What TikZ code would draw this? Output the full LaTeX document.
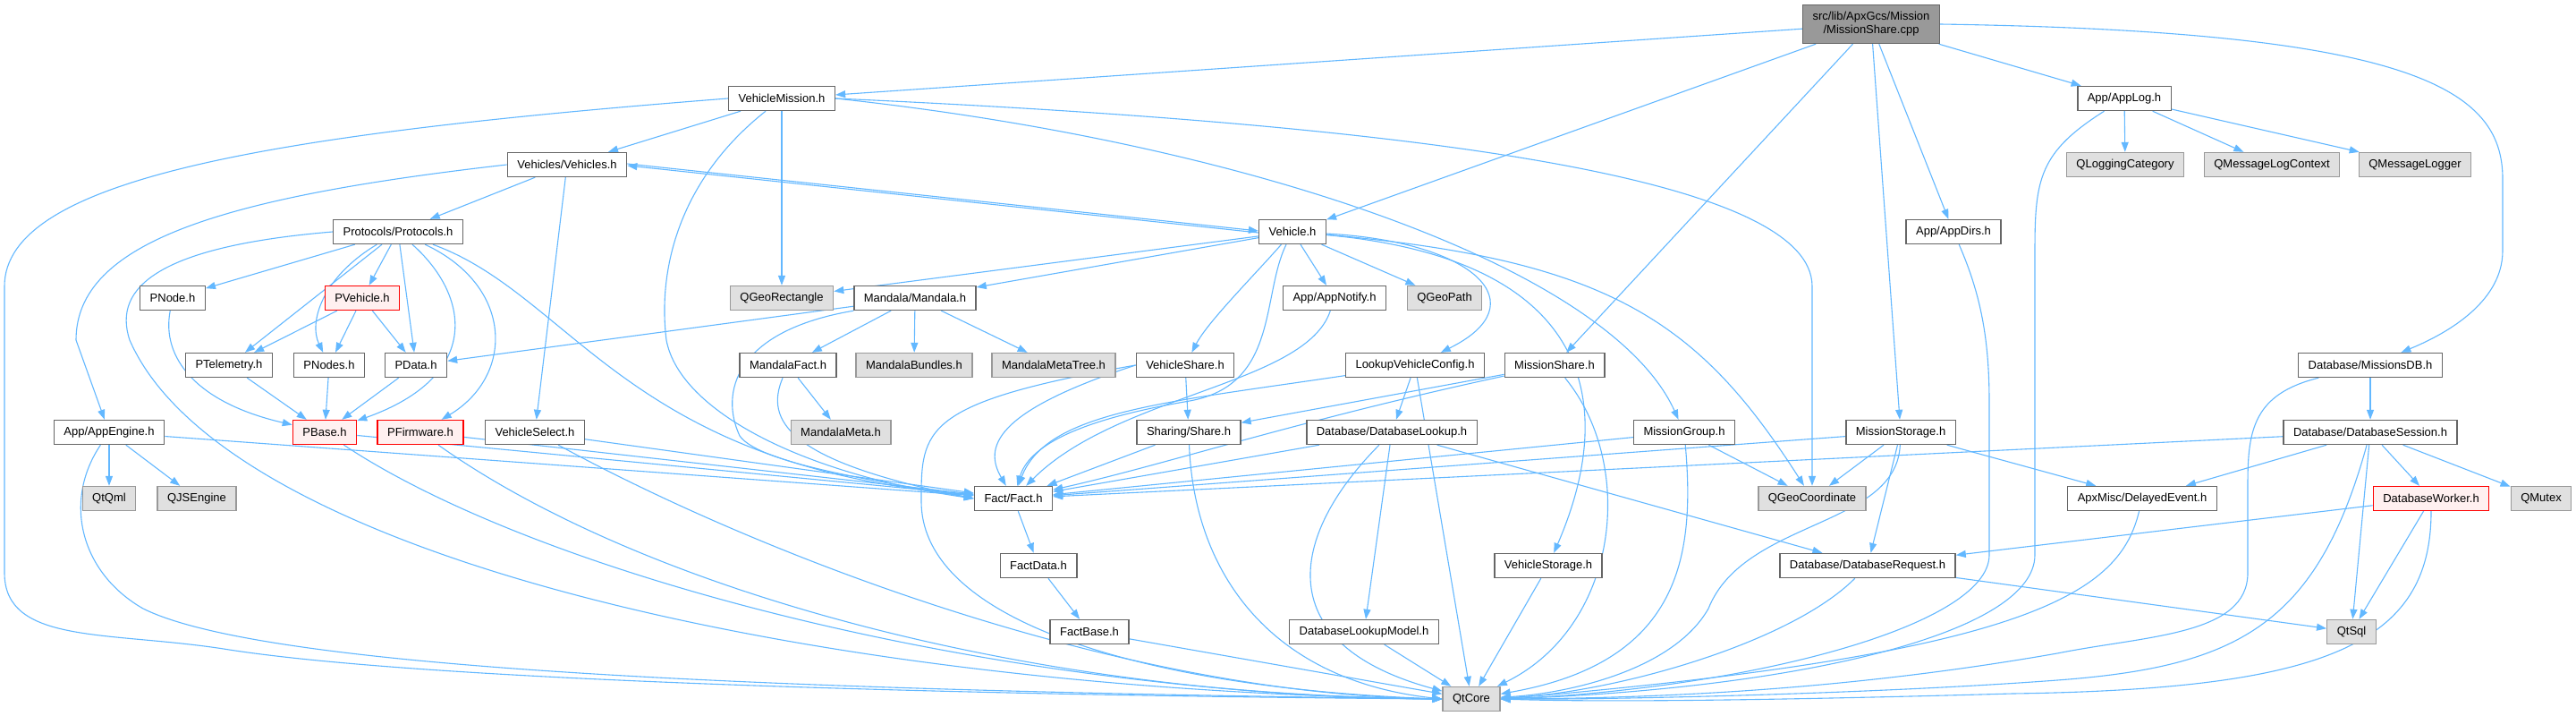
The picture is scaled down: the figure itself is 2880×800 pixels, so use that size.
\documentclass[tikz,border=0pt]{standalone}
\usepackage{fontspec}
\setmainfont{Liberation Sans}
\usetikzlibrary{arrows.meta}

\definecolor{edgeblue}{HTML}{63B8FF}
\definecolor{boxgray}{HTML}{666666}
\definecolor{extfill}{HTML}{E0E0E0}
\definecolor{extline}{HTML}{999999}
\definecolor{truncfill}{HTML}{FFF0F0}

\pgfdeclarelayer{background}
\pgfsetlayers{background,main}

\begin{document}
\begin{tikzpicture}[x=1pt, y=-1pt,
  file/.style={draw=boxgray, fill=white, line width=1.4pt, inner xsep=11pt, inner ysep=0pt,
    minimum height=27pt, font=\fontsize{13}{15}\selectfont},
  ext/.style={file, draw=extline, fill=extfill},
  trunc/.style={file, draw=red, fill=truncfill},
  rootfile/.style={file, draw=boxgray, fill=extline, align=center, minimum height=43pt},
  edge/.style={draw=edgeblue, line width=1.1pt, -{Triangle[length=11pt,width=8pt]}}]

\useasboundingbox (0,0) rectangle (2880,800);

% nodes
\node [rootfile] (root) at (2092,27) {src/lib/ApxGcs/Mission\\/MissionShare.cpp};
\node [file] (vmission) at (874,110) {VehicleMission.h};
\node [file] (applog) at (2375,110) {App/AppLog.h};
\node [file] (vehicles) at (634,184) {Vehicles/Vehicles.h};
\node [ext] (qlogcat) at (2376,184) {QLoggingCategory};
\node [ext] (qmsgctx) at (2540,184) {QMessageLogContext};
\node [ext] (qmsglogger) at (2700,184) {QMessageLogger};
\node [file] (protocols) at (445,259) {Protocols/Protocols.h};
\node [file] (vehicle) at (1445,259) {Vehicle.h};
\node [file] (appdirs) at (2184,259) {App/AppDirs.h};
\node [file] (pnode) at (193,333) {PNode.h};
\node [trunc] (pvehicle) at (405,333) {PVehicle.h};
\node [ext] (qgeorect) at (874,333) {QGeoRectangle};
\node [file] (mandala) at (1023,333) {Mandala/Mandala.h};
\node [file] (appnotify) at (1492,333) {App/AppNotify.h};
\node [ext] (qgeopath) at (1615,333) {QGeoPath};
\node [file] (ptelemetry) at (256,408) {PTelemetry.h};
\node [file] (pnodes) at (368,408) {PNodes.h};
\node [file] (pdata) at (465,408) {PData.h};
\node [file] (mandalafact) at (881,408) {MandalaFact.h};
\node [ext] (mbundles) at (1022,408) {MandalaBundles.h};
\node [ext] (mmetatree) at (1178,408) {MandalaMetaTree.h};
\node [file] (vshare) at (1325,408) {VehicleShare.h};
\node [file] (lookupcfg) at (1582,408) {LookupVehicleConfig.h};
\node [file] (missionshare) at (1738,408) {MissionShare.h};
\node [file] (missionsdb) at (2650,408) {Database/MissionsDB.h};
\node [file] (appengine) at (122,483) {App/AppEngine.h};
\node [trunc] (pbase) at (363,483) {PBase.h};
\node [trunc] (pfirmware) at (470,483) {PFirmware.h};
\node [file] (vselect) at (598,483) {VehicleSelect.h};
\node [ext] (mmeta) at (940,483) {MandalaMeta.h};
\node [file] (share) at (1329,483) {Sharing/Share.h};
\node [file] (dblookup) at (1556,483) {Database/DatabaseLookup.h};
\node [file] (missiongroup) at (1883,483) {MissionGroup.h};
\node [file] (missionstorage) at (2125,483) {MissionStorage.h};
\node [file] (dbsession) at (2650,483) {Database/DatabaseSession.h};
\node [ext] (qtqml) at (122,557) {QtQml};
\node [ext] (qjsengine) at (220,557) {QJSEngine};
\node [file] (fact) at (1133,557) {Fact/Fact.h};
\node [ext] (qgeocoord) at (2026,557) {QGeoCoordinate};
\node [file] (delayedevent) at (2395,557) {ApxMisc/DelayedEvent.h};
\node [trunc] (dbworker) at (2718,557) {DatabaseWorker.h};
\node [ext] (qmutex) at (2841,557) {QMutex};
\node [file] (factdata) at (1161,632) {FactData.h};
\node [file] (vstorage) at (1731,632) {VehicleStorage.h};
\node [file] (dbrequest) at (2088,632) {Database/DatabaseRequest.h};
\node [file] (factbase) at (1218,706) {FactBase.h};
\node [file] (dblookupmodel) at (1525,706) {DatabaseLookupModel.h};
\node [ext] (qtsql) at (2629,706) {QtSql};
\node [ext] (qtcore) at (1645,781) {QtCore};

\begin{pgfonlayer}{background}
\fill[white] (0,0) rectangle (2880,800);

% root
\draw [edge] (root) -- (vmission);
\draw [edge] (root) -- (vehicle);
\draw [edge] (root) -- (missionshare);
\draw [edge] (root) -- (missionstorage);
\draw [edge] (root) -- (appdirs);
\draw [edge] (root) -- (applog);
\draw [edge] (root.east) .. controls (2700,35) and (2798,100) .. (2798,200) -- (2798,280) .. controls (2798,340) and (2730,375) .. (missionsdb);

% VehicleMission.h
\draw [edge] (vmission.west) .. controls (300,150) and (5,200) .. (5,320) -- (5,640) .. controls (5,720) and (120,705) .. (250,725) .. controls (500,765) and (1200,778) .. (qtcore.west);
\draw [edge] (vmission) -- (vehicles);
\draw [edge] (vmission) .. controls (760,200) and (735,300) .. (745,380) .. controls (760,460) and (900,530) .. (fact.west);
\draw [edge] (vmission) -- (qgeorect);
\draw [edge] (vmission.east) .. controls (1600,140) and (2026,200) .. (2026,320) -- (qgeocoord);
\draw [edge] (vmission.east) .. controls (1400,160) and (1800,300) .. (missiongroup);

% Vehicles.h / Vehicle.h
\draw [edge] ([yshift=1pt]vehicles.east) -- ([yshift=1pt]vehicle.west);
\draw [edge] ([yshift=-1pt]vehicle.west) -- ([yshift=-1pt]vehicles.east);
\draw [edge] (vehicles) -- (protocols);
\draw [edge] (vehicles.west) .. controls (250,220) and (85,270) .. (85,380) -- (appengine);
\draw [edge] (vehicles) -- (vselect);
\draw [edge] (vehicle) -- (qgeorect);
\draw [edge] (vehicle) -- (mandala);
\draw [edge] (vehicle) .. controls (1400,310) and (1350,360) .. (vshare);
\draw [edge] (vehicle) .. controls (1410,330) and (1430,430) .. (1330,448) .. controls (1200,470) and (1150,500) .. (fact);
\draw [edge] (vehicle) -- (appnotify);
\draw [edge] (vehicle) -- (qgeopath);
\draw [edge] (vehicle) .. controls (1650,270) and (1720,340) .. (lookupcfg);
\draw [edge] (vehicle) .. controls (1780,290) and (1810,450) .. (vstorage);
\draw [edge] (vehicle) .. controls (1800,290) and (1900,360) .. (qgeocoord);

% Protocols
\draw [edge] (protocols) -- (pnode);
\draw [edge] (protocols) -- (pvehicle);
\draw [edge] (protocols) -- (ptelemetry);
\draw [edge] (protocols) .. controls (360,310) and (345,360) .. (pnodes);
\draw [edge] (protocols) -- (pdata);
\draw [edge] (protocols) .. controls (525,330) and (540,420) .. (pbase);
\draw [edge] (protocols) .. controls (575,320) and (575,420) .. (pfirmware);
\draw [edge] (protocols) .. controls (640,330) and (700,520) .. (fact);
\draw [edge] (protocols.west) .. controls (180,275) and (125,320) .. (145,380) .. controls (250,620) and (900,770) .. (qtcore.west);
\draw [edge] (pvehicle) -- (ptelemetry);
\draw [edge] (pvehicle) -- (pnodes);
\draw [edge] (pvehicle) -- (pdata);
\draw [edge] (pnode) .. controls (180,400) and (220,450) .. (pbase);
\draw [edge] (ptelemetry) -- (pbase);
\draw [edge] (pnodes) -- (pbase);
\draw [edge] (pdata) -- (pbase);
\draw [edge] (pbase) -- (fact);
\draw [edge] (pbase) .. controls (600,640) and (1100,775) .. (qtcore.west);
\draw [edge] (pfirmware) -- (fact);
\draw [edge] (pfirmware) .. controls (720,660) and (1150,778) .. (qtcore.west);
\draw [edge] (vselect) -- (fact);
\draw [edge] (vselect) .. controls (850,620) and (1250,775) .. (qtcore.west);

% App/AppEngine.h
\draw [edge] (appengine) -- (qtqml);
\draw [edge] (appengine) -- (qjsengine);
\draw [edge] (appengine) -- (fact);
\draw [edge] (appengine) .. controls (70,560) and (90,640) .. (160,680) .. controls (300,750) and (900,772) .. (qtcore.west);

% Mandala
\draw [edge] (mandala) -- (pdata);
\draw [edge] (mandala.south west) .. controls (820,370) and (805,440) .. (827,487) .. controls (850,520) and (1000,540) .. (fact.west);
\draw [edge] (mandala) -- (mandalafact);
\draw [edge] (mandala) -- (mbundles);
\draw [edge] (mandala) -- (mmetatree);
\draw [edge] (mandalafact) -- (mmeta);
\draw [edge] (mandalafact) .. controls (855,470) and (880,515) .. (fact.west);

% sharing
\draw [edge] (vshare) -- (share);
\draw [edge] (vshare.west) .. controls (1110,460) and (1100,500) .. (fact);
\draw [edge] (vshare.west) .. controls (1030,450) and (1030,480) .. (1030,560) .. controls (1030,700) and (1300,770) .. (qtcore.west);
\draw [edge] (share) -- (fact);
\draw [edge] (share) .. controls (1335,640) and (1420,760) .. (qtcore.west);
\draw [edge] (appnotify) .. controls (1460,430) and (1250,440) .. (fact);
\draw [edge] (missionshare) -- (share);
\draw [edge] (missionshare) .. controls (1450,470) and (1300,520) .. (fact);
\draw [edge] (missionshare) .. controls (1830,520) and (1810,700) .. (qtcore);

% lookup
\draw [edge] (lookupcfg) .. controls (1300,450) and (1170,460) .. (fact);
\draw [edge] (lookupcfg) -- (dblookup);
\draw [edge] (lookupcfg) -- (qtcore);
\draw [edge] (dblookup) -- (fact);
\draw [edge] (dblookup) .. controls (1440,600) and (1420,720) .. (qtcore);
\draw [edge] (dblookup) -- (dblookupmodel);
\draw [edge] (dblookup) -- (dbrequest);
\draw [edge] (dblookupmodel) -- (qtcore);
\draw [edge] (vstorage) -- (qtcore);

% missions
\draw [edge] (missiongroup) -- (fact);
\draw [edge] (missiongroup) -- (qgeocoord);
\draw [edge] (missiongroup) .. controls (1895,620) and (1880,740) .. (qtcore);
\draw [edge] (missionstorage) -- (fact);
\draw [edge] (missionstorage) -- (qgeocoord);
\draw [edge] (missionstorage) .. controls (2120,590) and (1950,580) .. (1910,680) .. controls (1870,750) and (1750,775) .. (qtcore);
\draw [edge] (missionstorage) -- (dbrequest);
\draw [edge] (missionstorage) -- (delayedevent);
\draw [edge] (dbrequest) .. controls (2000,720) and (1800,775) .. (qtcore);
\draw [edge] (dbrequest) -- (qtsql);

% Fact
\draw [edge] (fact) -- (factdata);
\draw [edge] (factdata) -- (factbase);
\draw [edge] (factbase) -- (qtcore);

% App/AppLog.h, App/AppDirs.h
\draw [edge] (applog) -- (qlogcat);
\draw [edge] (applog) -- (qmsgctx);
\draw [edge] (applog) -- (qmsglogger);
\draw [edge] (applog) .. controls (2280,170) and (2275,200) .. (2275,280) -- (2275,620) .. controls (2275,710) and (2000,770) .. (qtcore.east);
\draw [edge] (appdirs) .. controls (2215,330) and (2224,380) .. (2224,450) -- (2224,620) .. controls (2224,700) and (1950,770) .. (qtcore.east);

% database
\draw [edge] (missionsdb) -- (dbsession);
\draw [edge] (missionsdb) .. controls (2520,440) and (2513,480) .. (2513,540) -- (2513,640) .. controls (2513,710) and (2400,710) .. (2300,730) .. controls (2100,765) and (1900,780) .. (qtcore.east);
\draw [edge] (dbsession) -- (fact);
\draw [edge] (dbsession) -- (delayedevent);
\draw [edge] (dbsession) -- (dbworker);
\draw [edge] (dbsession) -- (qmutex);
\draw [edge] (dbsession) -- (qtsql);
\draw [edge] (dbsession) .. controls (2590,700) and (2500,745) .. (2300,760) .. controls (2100,775) and (1800,782) .. (qtcore.east);
\draw [edge] (dbworker) -- (dbrequest);
\draw [edge] (dbworker) -- (qtsql);
\draw [edge] (dbworker) .. controls (2718,720) and (2600,770) .. (2250,775) .. controls (2000,782) and (1800,785) .. (qtcore.east);
\draw [edge] (delayedevent) .. controls (2370,660) and (2280,730) .. (qtcore.east);
\end{pgfonlayer}

\end{tikzpicture}
\end{document}
